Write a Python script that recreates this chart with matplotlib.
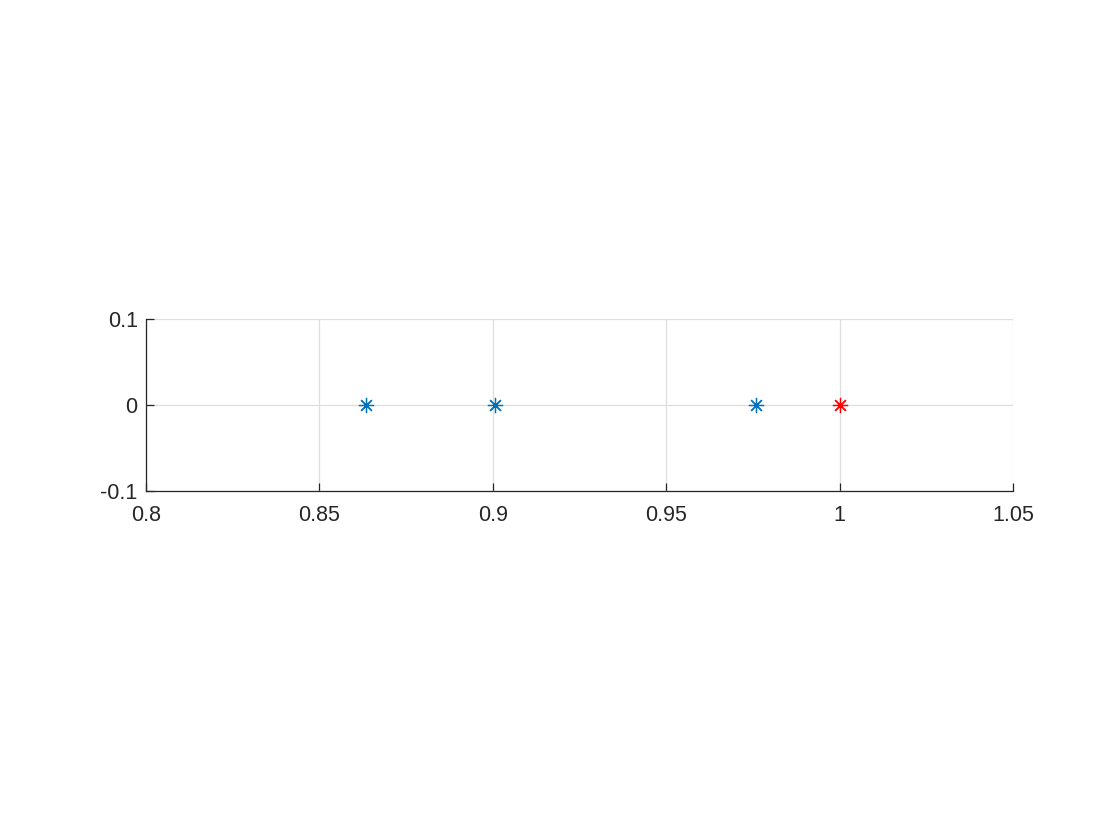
import matplotlib
matplotlib.use("Agg")
import matplotlib.pyplot as plt
from matplotlib.ticker import FuncFormatter

# valores
x_azul = [0.8633, 0.9006, 0.9760]
y_azul = [0, 0, 0]
x_rojo = [1.0]
y_rojo = [0]

x_ticks = [0.8, 0.85, 0.9, 0.95, 1.0, 1.05]
y_ticks = [-0.1, 0, 0.1]

plt.rcParams["font.family"] = ["Liberation Sans", "DejaVu Sans"]

fig = plt.figure(figsize=(11.2, 8.4), dpi=100)
ax = fig.add_axes([0.1304, 0.4155, 0.9045 - 0.1304, 0.6202 - 0.4155])

ast = (8, 2, 0)  # asterisco de 8 brazos, como en MATLAB
ax.plot(x_azul, y_azul, linestyle="none", marker=ast, markersize=11,
        markeredgewidth=0.9, color=(0, 0.447, 0.741), zorder=3)
ax.plot(x_rojo, y_rojo, linestyle="none", marker=ast, markersize=11,
        markeredgewidth=0.9, color=(1, 0, 0), zorder=3)

ax.set_xlim(0.8, 1.05)
ax.set_ylim(-0.1, 0.1)
ax.set_xticks(x_ticks)
ax.set_yticks(y_ticks)
fmt = FuncFormatter(lambda v, _: f"{v:g}")
ax.xaxis.set_major_formatter(fmt)
ax.yaxis.set_major_formatter(fmt)

ax.grid(True, color="#dedede", linewidth=0.9)
ax.set_axisbelow(True)
for s in ("top", "right"):
    ax.spines[s].set_visible(False)
for s in ("left", "bottom"):
    ax.spines[s].set_color("#262626")
    ax.spines[s].set_linewidth(0.9)
ax.tick_params(direction="in", length=6, width=0.9, color="#262626",
               labelsize=15.5, labelcolor="#262626")
ax.tick_params(axis="x", pad=10)
ax.tick_params(axis="y", pad=6)

fig.savefig("out.png", dpi=100)
